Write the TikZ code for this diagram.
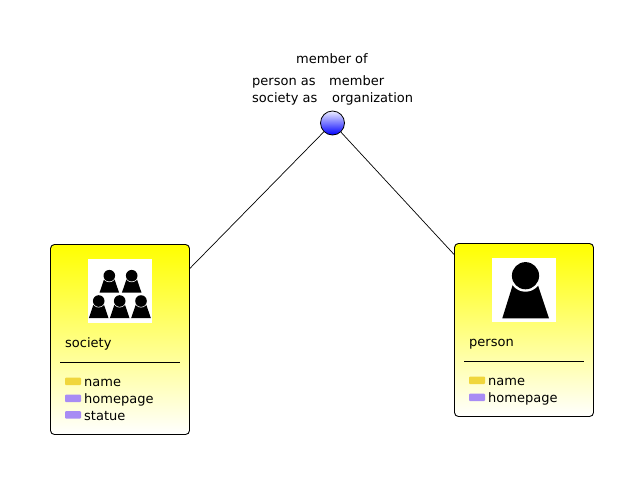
\documentclass[tikz,border=0pt]{standalone}
\usepackage{fontspec}
\setmainfont{DejaVu Sans}
\begin{document}
\begin{tikzpicture}[x=1pt,y=-1pt,
  card/.style={draw=black,line width=0.9pt,rounded corners=4pt,top color=yellow,bottom color=white,inner sep=0pt,minimum width=139pt},
  lbl/.style={anchor=base west,inner sep=0pt,font=\fontsize{13}{15}\selectfont},
  swatch/.style={rounded corners=1pt,line width=0pt},
  link/.style={draw=black,line width=0.7pt},
  rule/.style={draw=black,line width=0.8pt}]
\definecolor{attrY}{HTML}{F0D63C}
\definecolor{attrP}{HTML}{A88CF4}
\useasboundingbox (0,0) rectangle (644,485);
\fill[white] (0,0) rectangle (644,485);
% nodes
\node[card,minimum height=190pt] (society) at (120,339.5) {};
\node[card,minimum height=173pt] (person) at (524,330) {};
\node[circle,draw=black,line width=0.8pt,minimum size=24pt,inner sep=0pt,top color=blue!7!white,bottom color=blue] (assoc) at (332.5,123) {};
% connectors
\draw[link] (assoc) -- (society);
\draw[link] (assoc) -- (person);
% association labels
\node[lbl,anchor=base] (t0) at (332,63) {member of};
\node[lbl] (t1) at (252,85) {person as};
\node[lbl] (t2) at (329,85) {member};
\node[lbl] (t3) at (252,102) {society as};
\node[lbl] (t4) at (332,102) {organization};
% society icon
\fill[white] (88,259) rectangle (152,323);
\foreach \cx/\cy in {109.3/275.7,131.7/275.7,98.7/301,119.7/301,141/301}{
  \fill[black] (\cx-5.2,\cy+3.5) -- (\cx+5.2,\cy+3.5) -- (\cx+9.8,\cy+17) -- (\cx-9.8,\cy+17) -- cycle;
  \fill[white] (\cx,\cy) circle (6.5);
  \fill[black] (\cx,\cy) circle (5.8);
}
% person icon
\fill[white] (492,258) rectangle (556,322);
\fill[black] (513,284) -- (537.5,284) -- (549,318.3) -- (502.3,318.3) -- cycle;
\fill[white] (525.5,275.7) circle (16);
\fill[black] (525.5,275.7) circle (13.6);
% society text
\node[lbl] (sn) at (65,347) {society};
\draw[rule] (60,362) -- (180,362);
\fill[attrY,swatch] (65,377.5) rectangle (81,385);
\fill[attrP,swatch] (65,394.5) rectangle (81,402);
\fill[attrP,swatch] (65,411) rectangle (81,418.5);
\node[lbl] (s1) at (84,386) {name};
\node[lbl] (s2) at (84,403) {homepage};
\node[lbl] (s3) at (84,420) {statue};
% person text
\node[lbl] (pn) at (469,346) {person};
\draw[rule] (464,361) -- (584,361);
\fill[attrY,swatch] (469,376.5) rectangle (485,384);
\fill[attrP,swatch] (469,393.5) rectangle (485,401);
\node[lbl] (p1) at (488,385) {name};
\node[lbl] (p2) at (488,402) {homepage};
\end{tikzpicture}
\end{document}
